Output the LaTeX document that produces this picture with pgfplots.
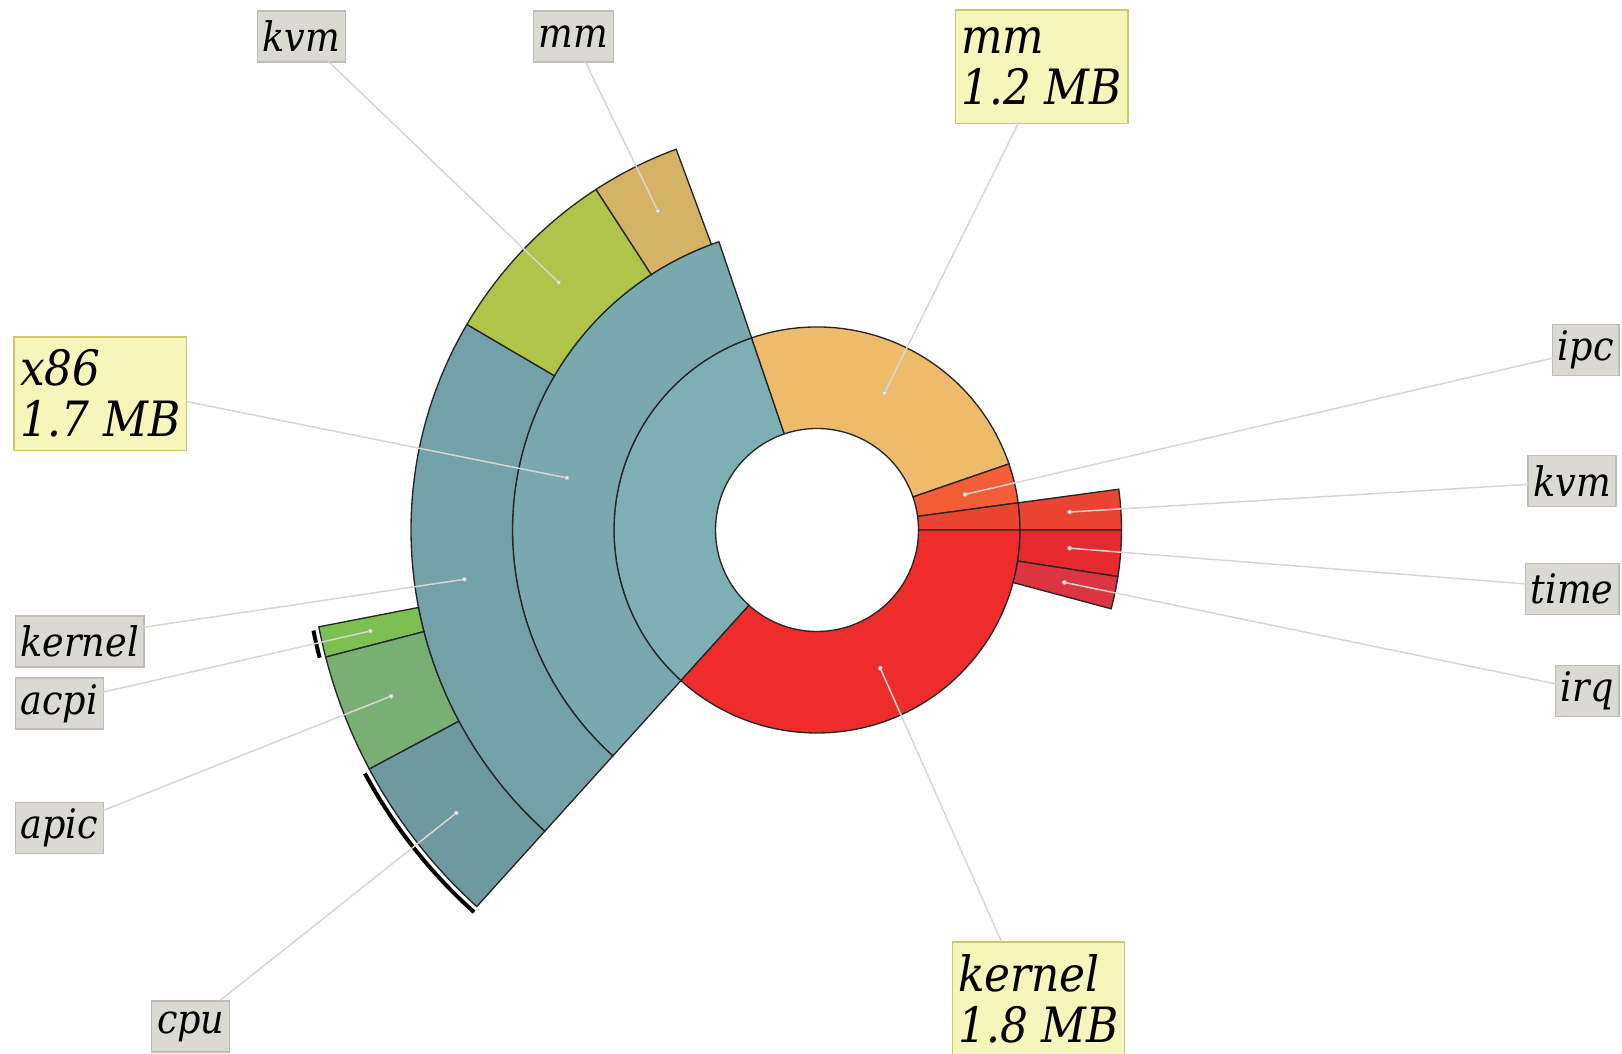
\documentclass[border=0pt]{standalone}
\usepackage{fontspec}
\setmainfont{DejaVu Serif Condensed}
\usepackage{pgfplots}
\usepackage{pgfplotstable}
\pgfplotsset{compat=1.18}

\definecolor{cArch}{HTML}{7EAFB5}
\definecolor{cX86}{HTML}{79A8AE}
\definecolor{cXKern}{HTML}{72A1A8}
\definecolor{cCpu}{HTML}{6E999F}
\definecolor{cXKvm}{HTML}{B0C44A}
\definecolor{cXMm}{HTML}{D4B266}
\definecolor{cAcpi}{HTML}{7CC052}
\definecolor{cApic}{HTML}{78B073}
\definecolor{cMm}{HTML}{EDBB6A}
\definecolor{cIpc}{HTML}{F45E36}
\definecolor{cVirt}{HTML}{EA4431}
\definecolor{cKvm}{HTML}{E84431}
\definecolor{cKern}{HTML}{EE2C2C}
\definecolor{cTime}{HTML}{E62A2D}
\definecolor{cIrq}{HTML}{DC3440}
\definecolor{lfill}{HTML}{DADAD3}
\definecolor{lbord}{HTML}{BDBDB6}
\definecolor{yfill}{HTML}{F6F5BA}
\definecolor{ybord}{HTML}{C9C86A}
\definecolor{leadc}{HTML}{D6D6D1}

% annular sector, angles in degrees, radii in pt
\pgfdeclareplotmark{wedge}{%
  \pgfpathmoveto{\pgfpointpolar{\wa}{\wR pt}}%
  \pgfpatharc{\wa}{\wb}{\wR pt}%
  \pgfpathlineto{\pgfpointpolar{\wb}{\wr pt}}%
  \pgfpatharc{\wb}{\wa}{\wr pt}%
  \pgfpathclose
  \pgfusepathqfillstroke}
\pgfdeclareplotmark{hl}{%
  \pgfpathmoveto{\pgfpointpolar{\wa}{\wR pt}}%
  \pgfpatharc{\wa}{\wb}{\wR pt}%
  \pgfusepathqstroke}
% leader line from the slice point to its label
\pgfdeclareplotmark{lead}{%
  \pgfpathmoveto{\pgfpointorigin}%
  \pgfpathlineto{\pgfpoint{\ldx pt}{\ldy pt}}%
  \pgfusepathqstroke}

% sunburst slices: centre (x,y), start/end angle, inner/outer radius (px)
\pgfplotstableread{
x y a1 a2 r1 r2 col
817 523 108.8 227.9 101.5 203 cArch
817 523 19 108.8 101.5 203 cMm
817 523 7.7 19 101.5 203 cIpc
817 523 0 7.7 101.5 203 cVirt
817 523 -132.1 0 101.5 203 cKern
817 523 108.8 227.9 203 304.5 cX86
817 523 0 7.7 203 304.5 cKvm
817 523 -8.8 0 203 304.5 cTime
817 523 -15 -8.8 203 304.5 cIrq
817 523 110.3 123 304.5 406 cXMm
817 523 123 149.6 304.5 406 cXKvm
817 523 149.6 227.9 304.5 406 cXKern
817 523 191 194.5 406 507.5 cAcpi
817 523 194.5 208.1 406 507.5 cApic
817 523 208.1 227.9 406 507.5 cCpu
}\wedges

% selection arcs
\pgfplotstableread{
x y a1 a2 r
817 523 191.3 194.4 513.5
817 523 208.3 228.1 513.5
}\hlarcs

% label anchor points and offset to the label box (px)
\pgfplotstableread{
x y dx dy
558.6 770.6 -231.7 222.4
657.9 842 -73.5 151
884.4 659.9 134.5 271.1
566.9 575.1 -381.7 76.6
464.4 473.7 -324.8 -48.6
370.3 422 -271 -62
391 356.8 -291.7 -115.8
456.2 240 -235.9 -187.3
880.3 384.8 121 -273.1
965.1 558.6 592.7 137.5
1069.6 541 462.4 27.9
1069.6 504.8 462.4 -36.2
1064.4 470.6 495.6 -102.4
}\leaders

\begin{document}
\begin{tikzpicture}[
  gbox/.style={draw=lbord, fill=lfill, line width=0.4pt, inner xsep=1.6pt, inner ysep=0pt,
    minimum height=15.3pt, font=\fontsize{12.2}{13}\selectfont\itshape},
  ybox/.style={draw=ybord, fill=yfill, line width=0.4pt, align=left, inner xsep=1.8pt, inner ysep=1pt,
    minimum height=34pt, font=\fontsize{14.6}{15.3}\selectfont\itshape}]
\begin{axis}[
    scale only axis,
    width=486.6pt, height=315.9pt,
    xmin=0, xmax=1622, ymin=0, ymax=1053,
    hide axis, clip=false
]
\addplot[scatter, only marks, mark=wedge,
    mark options={draw=black!85, line width=0.4pt},
    point meta=explicit symbolic,
    scatter/classes={
      cArch={fill=cArch}, cX86={fill=cX86}, cXKern={fill=cXKern}, cCpu={fill=cCpu},
      cXKvm={fill=cXKvm}, cXMm={fill=cXMm}, cAcpi={fill=cAcpi}, cApic={fill=cApic},
      cMm={fill=cMm}, cIpc={fill=cIpc}, cVirt={fill=cVirt}, cKvm={fill=cKvm},
      cKern={fill=cKern}, cTime={fill=cTime}, cIrq={fill=cIrq}},
    visualization depends on={\thisrow{a1} \as \wa},
    visualization depends on={\thisrow{a2} \as \wb},
    visualization depends on={0.3*\thisrow{r1} \as \wr},
    visualization depends on={0.3*\thisrow{r2} \as \wR}]
  table[x=x, y=y, meta=col] {\wedges};

\addplot[only marks, mark=hl, mark options={draw=black, line width=1.2pt},
    visualization depends on={\thisrow{a1} \as \wa},
    visualization depends on={\thisrow{a2} \as \wb},
    visualization depends on={0.3*\thisrow{r} \as \wR}]
  table[x=x, y=y] {\hlarcs};

\addplot[only marks, mark=lead, mark options={draw=leadc, line width=0.45pt},
    visualization depends on={0.3*\thisrow{dx} \as \ldx},
    visualization depends on={0.3*\thisrow{dy} \as \ldy}]
  table[x=x, y=y] {\leaders};

\addplot[only marks, mark=*, mark size=0.6pt,
    mark options={fill=white!85!gray, draw=gray!50, line width=0.2pt}]
  table[x=x, y=y] {\leaders};

% labels
\node[gbox, anchor=north west] at (axis cs:256.5,1042.7) {kvm};
\node[gbox, anchor=north west] at (axis cs:532.7,1042.7) {mm};
\node[gbox, anchor=north west] at (axis cs:14.5,437.5) {kernel};
\node[gbox, anchor=north west] at (axis cs:14.5,375.5) {acpi};
\node[gbox, anchor=north west] at (axis cs:14.5,251.3) {apic};
\node[gbox, anchor=north west] at (axis cs:151,52.7) {cpu};
\node[gbox, anchor=north east] at (axis cs:1619.5,729.2) {ipc};
\node[gbox, anchor=north east] at (axis cs:1616.8,598) {kvm};
\node[gbox, anchor=north east] at (axis cs:1619.5,490.3) {time};
\node[gbox, anchor=north east] at (axis cs:1619.5,388) {irq};
\node[ybox, anchor=north west] at (axis cs:954.8,1043.7) {mm\\1.2 MB};
\node[ybox, anchor=north west] at (axis cs:13.4,716.8) {x86\\1.7 MB};
\node[ybox, anchor=north west] at (axis cs:951.6,111.7) {kernel\\1.8 MB};
\end{axis}
\pgfresetboundingbox
\useasboundingbox (current axis.south west) rectangle (current axis.north east);
\end{tikzpicture}
\end{document}
